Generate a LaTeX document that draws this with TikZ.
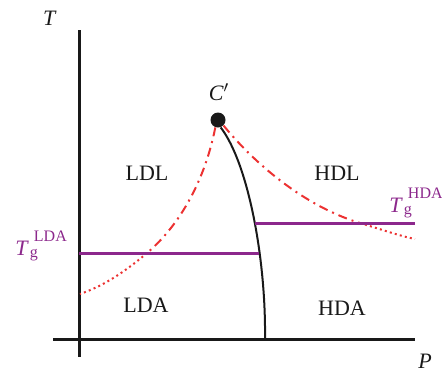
\documentclass[tikz,border=0pt]{standalone}
\usepackage{fontspec}
\setmainfont{Liberation Serif}
\usepackage{tikz}
\usetikzlibrary{positioning}
\definecolor{myred}{RGB}{236,50,50}
\definecolor{mypurple}{RGB}{140,40,140}
\definecolor{mydark}{RGB}{25,25,25}
\tikzset{
  axis/.style={line width=1.5pt, color=mydark},
  coexline/.style={line width=1pt, color=mydark},
  spinodal/.style={line width=1pt, color=myred,
    dash pattern=on 4.5pt off 2.5pt on 1pt off 2.5pt},
  spindot/.style={line width=1pt, color=myred, dash pattern=on 1pt off 1.6pt},
  glassline/.style={line width=1.5pt, color=mypurple},
  cpoint/.style={circle, fill=mydark, minimum size=7.5pt, inner sep=0pt},
  phase/.style={font=\fontsize{11}{13}\selectfont, text=mydark, inner sep=0pt},
  tglabel/.style={font=\fontsize{11}{13}\selectfont, text=mypurple, inner sep=0pt}
}
\newcommand{\tglass}[1]{\textit{T}\kern0.5pt\rlap{\raisebox{-0.1em}{\fontsize{8}{9}\selectfont g}}\kern2pt\raisebox{0.6em}{\fontsize{8}{9}\selectfont #1}}

\begin{document}
\begin{tikzpicture}[x=0.5pt, y=-0.5pt]
  \useasboundingbox (0,0) rectangle (442,372);
  % Main coordinates (pixel grid, y downwards)
  \coordinate (Ttop) at (79,30);
  \coordinate (Tbot) at (79,357);
  \coordinate (Pleft) at (53,339);
  \coordinate (Pright) at (415,339);
  \coordinate (B) at (265,339);
  \coordinate (AL) at (79,253);
  \coordinate (GL) at (259,253);
  \coordinate (GH) at (255,223);
  \coordinate (AR) at (415,223);
  \coordinate (XL) at (147,253);
  \coordinate (XH) at (360,223);
  \coordinate (SL) at (80,294);
  \coordinate (SH) at (415,239);

  % Draw axes
  \draw[axis] (Ttop) -- (Tbot);
  \draw[axis] (Pleft) -- (Pright);
  \node[phase, anchor=base] (Tlab) at (50,25) {\textit{T}};
  \node[phase, anchor=base] (Plab) at (425,368) {\textit{P}};

  % Critical point C'
  \node[cpoint] (Cp) at (218,120) {};
  \node[phase, anchor=base] (Cplab) at (219,100) {$\mathit{C}'$};

  % Coexistence line
  \draw[coexline] (Cp.-70) .. controls (248,163) and (266,258) .. (B);

  % Spinodals
  \draw[spinodal] (Cp.-110) .. controls (205,180) and (180,225) .. (XL);
  \draw[spindot] (XL) .. controls (120,276) and (100,287) .. (SL);
  \draw[spinodal] (Cp.-45) .. controls (260,170) and (310,208) .. (XH);
  \draw[spindot] (XH) .. controls (380,229) and (400,236) .. (SH);

  % Glass transitions
  \draw[glassline] (AL) -- (GL);
  \draw[glassline] (GH) -- (AR);
  \node[tglabel, anchor=base west] (TgL) at (15,255) {\tglass{LDA}};
  \node[tglabel, anchor=base west] (TgH) at (389,212) {\tglass{HDA}};

  % Phase labels
  \node[phase, anchor=base] (LDL) at (147,180) {LDL};
  \node[phase, anchor=base] (HDL) at (337,180) {HDL};
  \node[phase, anchor=base] (LDA) at (146,312) {LDA};
  \node[phase, anchor=base] (HDA) at (342,315) {HDA};
\end{tikzpicture}
\end{document}
